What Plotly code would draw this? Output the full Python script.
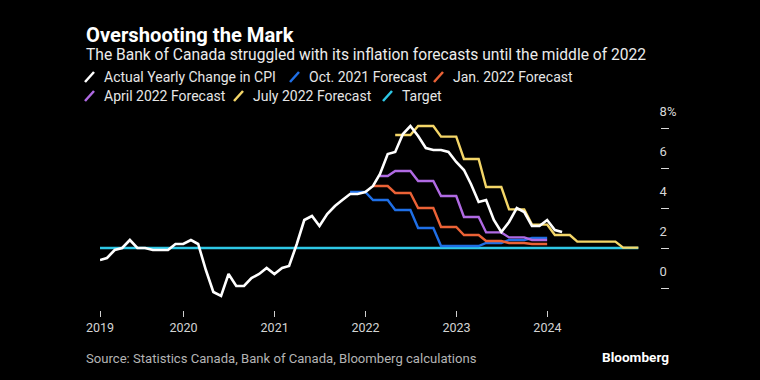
import pandas as pd
import plotly.graph_objects as go

# ---------------- data ----------------
cpi_start = "2019-01-31"
cpi_actual = [
    1.4, 1.5, 1.9, 2.0, 2.4, 2.0, 2.0, 1.9, 1.9, 1.9, 2.2, 2.2,
    2.4, 2.2, 0.9, -0.2, -0.4, 0.7, 0.1, 0.1, 0.5, 0.7, 1.0, 0.7,
    1.0, 1.1, 2.2, 3.4, 3.6, 3.1, 3.7, 4.1, 4.4, 4.7, 4.7, 4.8,
    5.1, 5.7, 6.7, 6.8, 7.7, 8.1, 7.6, 7.0, 6.9, 6.9, 6.8, 6.3,
    5.9, 5.2, 4.3, 4.4, 3.4, 2.8, 3.3, 4.0, 3.8, 3.1, 3.1, 3.4,
    2.9, 2.8,
]

oct21_start = "2021-10-31"
oct21_forecast = [
    4.8, 4.8, 4.8, 4.4, 4.4, 4.4, 3.9, 3.9, 3.9, 3.0, 3.0, 3.0,
    2.1, 2.1, 2.1, 2.1, 2.1, 2.1, 2.25, 2.25, 2.25, 2.4, 2.4, 2.4,
    2.5, 2.5, 2.5,
]

jan22_start = "2022-01-31"
jan22_forecast = [
    5.1, 5.1, 5.1, 4.75, 4.75, 4.75, 4.0, 4.0, 4.0, 3.05, 3.05, 3.05,
    2.65, 2.65, 2.65, 2.35, 2.35, 2.35, 2.25, 2.25, 2.25, 2.2, 2.2, 2.2,
]

apr22_start = "2022-02-28"
apr22_forecast = [
    5.6, 5.6, 5.85, 5.85, 5.85, 5.35, 5.35, 5.35, 4.6, 4.6, 4.6,
    3.55, 3.55, 3.55, 2.78, 2.78, 2.78, 2.53, 2.53, 2.53, 2.4, 2.4, 2.4,
]

jul22_start = "2022-04-30"
jul22_forecast = [
    7.65, 7.65, 7.65, 8.1, 8.1, 8.1, 7.57, 7.57, 7.57,
    6.45, 6.45, 6.45, 5.05, 5.05, 5.05, 3.93, 3.93, 3.93, 3.17, 3.17, 3.17,
    2.65, 2.65, 2.65, 2.32, 2.32, 2.32, 2.32, 2.32, 2.32, 2.02, 2.02, 2.02,
]

target_dates = ["2019-01-31", "2024-12-31"]
target_values = [2.0, 2.0]

x_tick_vals = ["2019-01-31", "2020-01-01", "2021-01-01", "2022-01-01", "2023-01-01", "2024-01-01"]
x_tick_text = ["2019", "2020", "2021", "2022", "2023", "2024"]
y_tick_vals = [0, 2, 4, 6, 8]
y_tick_text = ["0", "2", "4", "6", "8%"]

series_names = ["Actual Yearly Change in CPI", "Oct. 2021 Forecast", "Jan. 2022 Forecast",
                "April 2022 Forecast", "July 2022 Forecast", "Target"]

# ---------------- styling ----------------
FONT = "Roboto"
BG = "#000000"
colors = {
    "Actual Yearly Change in CPI": "#ffffff",
    "Oct. 2021 Forecast": "#1f6fe6",
    "Jan. 2022 Forecast": "#eb6236",
    "April 2022 Forecast": "#b06ae3",
    "July 2022 Forecast": "#f4d668",
    "Target": "#2ec8e6",
}


def months(start, n):
    return pd.date_range(start, periods=n, freq=pd.offsets.MonthEnd())


fig = go.Figure()

draw_order = [
    ("Target", target_dates, target_values),
    ("Oct. 2021 Forecast", months(oct21_start, len(oct21_forecast)), oct21_forecast),
    ("Jan. 2022 Forecast", months(jan22_start, len(jan22_forecast)), jan22_forecast),
    ("April 2022 Forecast", months(apr22_start, len(apr22_forecast)), apr22_forecast),
    ("July 2022 Forecast", months(jul22_start, len(jul22_forecast)), jul22_forecast),
    ("Actual Yearly Change in CPI", months(cpi_start, len(cpi_actual)), cpi_actual),
]
for name, xs, ys in draw_order:
    fig.add_trace(go.Scatter(
        x=xs, y=ys, mode="lines", name=name, showlegend=False,
        line=dict(color=colors[name], width=2.6 if name.startswith("Actual") else 2.4),
        hoverinfo="skip",
    ))

# plot area in pixels
L, R, T, B = 100, 660, 120, 310
W, H = 760, 380


def px(x):
    return (x - L) / (R - L)


def py(y):
    return (B - y) / (B - T)


annotations = [
    dict(text="<b>Overshooting the Mark</b>", x=px(84), y=py(35), font=dict(size=20.2, color="#ffffff", family=FONT)),
    dict(text="The Bank of Canada struggled with its inflation forecasts until the middle of 2022",
         x=px(84), y=py(55), font=dict(size=15.6, color="#ececec", family=FONT)),
    dict(text="Source: Statistics Canada, Bank of Canada, Bloomberg calculations",
         x=px(84), y=py(358), font=dict(size=13.1, color="#b4b4b4", family=FONT)),
]

legend_items = [
    (series_names[0], 85, 102, 77),
    (series_names[1], 290, 307, 77),
    (series_names[2], 434, 451, 77),
    (series_names[3], 85, 102, 96),
    (series_names[4], 234, 251, 96),
    (series_names[5], 383, 400, 96),
]
shapes = []
for name, mx, tx, yy in legend_items:
    shapes.append(dict(type="line", xref="paper", yref="paper",
                       x0=px(mx), y0=py(yy + 5), x1=px(mx + 9), y1=py(yy - 5),
                       line=dict(color=colors[name], width=2.5)))
    annotations.append(dict(text=name, x=px(tx), y=py(yy),
                            font=dict(size=14.0, color="#e6e6e6", family=FONT)))

for a in annotations:
    a.update(xref="paper", yref="paper", xanchor="left", yanchor="middle", showarrow=False)

annotations.append(dict(text="<b>Bloomberg</b>", xref="paper", yref="paper", x=px(671), y=py(357),
                        xanchor="right", yanchor="middle", showarrow=False,
                        font=dict(size=13.6, color="#ffffff", family=FONT)))

fig.update_layout(
    width=W, height=H,
    paper_bgcolor=BG, plot_bgcolor=BG,
    margin=dict(l=L, r=W - R, t=T, b=H - B, pad=0),
    annotations=annotations, shapes=shapes,
    showlegend=False,
    xaxis=dict(
        type="date", range=["2019-01-31", "2025-03-28"],
        tickvals=x_tick_vals, ticktext=x_tick_text,
        ticks="outside", ticklen=6, tickwidth=1, tickcolor="#cfcfcf",
        showgrid=False, zeroline=False, showline=False,
        tickfont=dict(size=12.5, color="#d4d4d4", family=FONT),
    ),
    yaxis=dict(
        side="right", range=[-1.1, 8.4],
        tickvals=y_tick_vals, ticktext=y_tick_text,
        ticks="outside", ticklen=8, tickwidth=1, tickcolor="#d8d8d8",
        ticklabelstandoff=-12, ticklabelshift=-17,
        showgrid=False, zeroline=False, showline=False,
        tickfont=dict(size=13, color="#d8d8d8", family=FONT),
    ),
)

fig.write_html(
    "out.html",
    config={"displayModeBar": False, "staticPlot": True},
    post_script="document.body.style.margin='0';document.body.style.padding='0';"
                "document.body.style.background='#000';document.body.style.overflow='hidden';",
)
